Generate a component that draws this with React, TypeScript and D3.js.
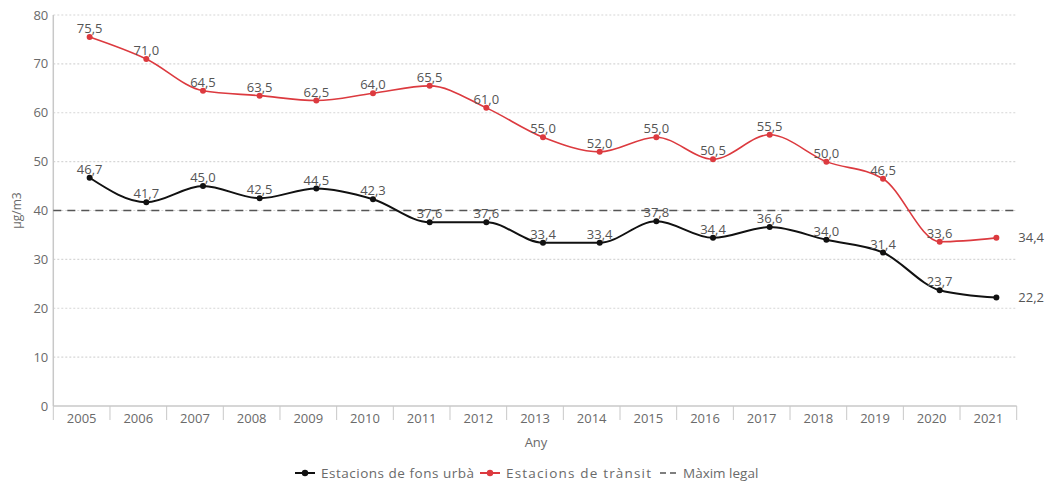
import React from "react";
import * as d3 from "d3";

const years = ["2005","2006","2007","2008","2009","2010","2011","2012","2013","2014","2015","2016","2017","2018","2019","2020","2021"];
const urban = [46.7, 41.7, 45.0, 42.5, 44.5, 42.3, 37.6, 37.6, 33.4, 33.4, 37.8, 34.4, 36.6, 34.0, 31.4, 23.7, 22.2];
const transit = [75.5, 71.0, 64.5, 63.5, 62.5, 64.0, 65.5, 61.0, 55.0, 52.0, 55.0, 50.5, 55.5, 50.0, 46.5, 33.6, 34.4];
const yTicks = [0, 10, 20, 30, 40, 50, 60, 70, 80];
const legalMax = 40;
const seriesNames = ["Estacions de fons urbà", "Estacions de trànsit", "Màxim legal"];

const W = 1059, H = 483;
const left = 53.3, right = 1016.7, top = 15, bottom = 406;
const font = "'Open Sans', sans-serif";
const RED = "#dc3a3f";
const BLACK = "#111";
const TXT = "#6a6a6a";

export default function App() {
  const x = d3.scaleBand<string>().domain(years).range([left, right]);
  const xp = d3.scalePoint<string>().domain(years).range([left + 8, right + 8]).padding(0.5);
  const y = d3.scaleLinear().domain([0, 80]).range([bottom, top]);
  const line = d3.line<number>().x((_, i) => xp(years[i])!).y(d => y(d)).curve(d3.curveMonotoneX);
  const fmt = (v: number) => v.toFixed(1).replace(".", ",");
  const series = [
    { data: transit, color: RED },
    { data: urban, color: BLACK },
  ];
  const boundaries = years.map(yr => x(yr)!).concat([right]);
  return (
    <svg width={W} height={H} style={{ position: "absolute", left: 0, top: 0, fontFamily: font }}>
      {yTicks.filter(t => t > 0).map(t => (
        <line key={t} x1={left} x2={right} y1={y(t)} y2={y(t)} stroke="#d6d6d6" strokeWidth={1.2} strokeDasharray="2,2" />
      ))}
      <line x1={left} x2={left} y1={top} y2={bottom} stroke="#c8c8c8" strokeWidth={1.5} />
      <line x1={left} x2={right} y1={bottom} y2={bottom} stroke="#c8c8c8" strokeWidth={1.5} />
      {boundaries.map((b, i) => (
        <line key={i} x1={b} x2={b} y1={bottom} y2={bottom + 14} stroke="#c8c8c8" strokeWidth={1} />
      ))}
      {yTicks.map(t => (
        <text key={t} x={left - 5} y={y(t)} dy="0.35em" textAnchor="end" fontSize={13} fill={TXT}>{t}</text>
      ))}
      {years.map(yr => (
        <text key={yr} x={x(yr)! + x.bandwidth() / 2} y={bottom + 17} textAnchor="middle" fontSize={13} fill={TXT}>{yr}</text>
      ))}
      <text x={536} y={447} textAnchor="middle" fontSize={13} fill={TXT}>Any</text>
      <text transform={`translate(21,${y(40)}) rotate(-90)`} textAnchor="middle" fontSize={12} fill={TXT}>µg/m3</text>
      <line x1={left} x2={right} y1={y(legalMax)} y2={y(legalMax)} stroke="#555" strokeWidth={1.3} strokeDasharray="8,6" />
      {series.map((s, si) => (
        <g key={si}>
          <path d={line(s.data) || ""} fill="none" stroke={s.color} strokeWidth={si === 0 ? 1.6 : 2} />
          {s.data.map((v, i) => (
            <circle key={i} cx={xp(years[i])!} cy={y(v)} r={3} fill={s.color} />
          ))}
          {s.data.map((v, i) => {
            const last = i === s.data.length - 1;
            return (
              <text key={"l" + i} x={last ? xp(years[i])! + 22 : xp(years[i])!} y={last ? y(v) : y(v) - 4}
                dy={last ? "0.35em" : 0} textAnchor={last ? "start" : "middle"} fontSize={13} fill="#555">{fmt(v)}</text>
            );
          })}
        </g>
      ))}
      <g fontSize={13.5} fill={TXT}>
        <line x1={295} x2={315} y1={473} y2={473} stroke={BLACK} strokeWidth={2} />
        <circle cx={305} cy={473} r={3.2} fill={BLACK} />
        <text x={321} y={473} dy="0.35em" textLength={153} lengthAdjust="spacing">{seriesNames[0]}</text>
        <line x1={480} x2={500} y1={473} y2={473} stroke={RED} strokeWidth={2} />
        <circle cx={490} cy={473} r={3.2} fill={RED} />
        <text x={506} y={473} dy="0.35em" textLength={145} lengthAdjust="spacing">{seriesNames[1]}</text>
        <line x1={660} x2={679} y1={473} y2={473} stroke="#555" strokeWidth={1.3} strokeDasharray="6,4" />
        <text x={683} y={473} dy="0.35em">{seriesNames[2]}</text>
      </g>
    </svg>
  );
}
